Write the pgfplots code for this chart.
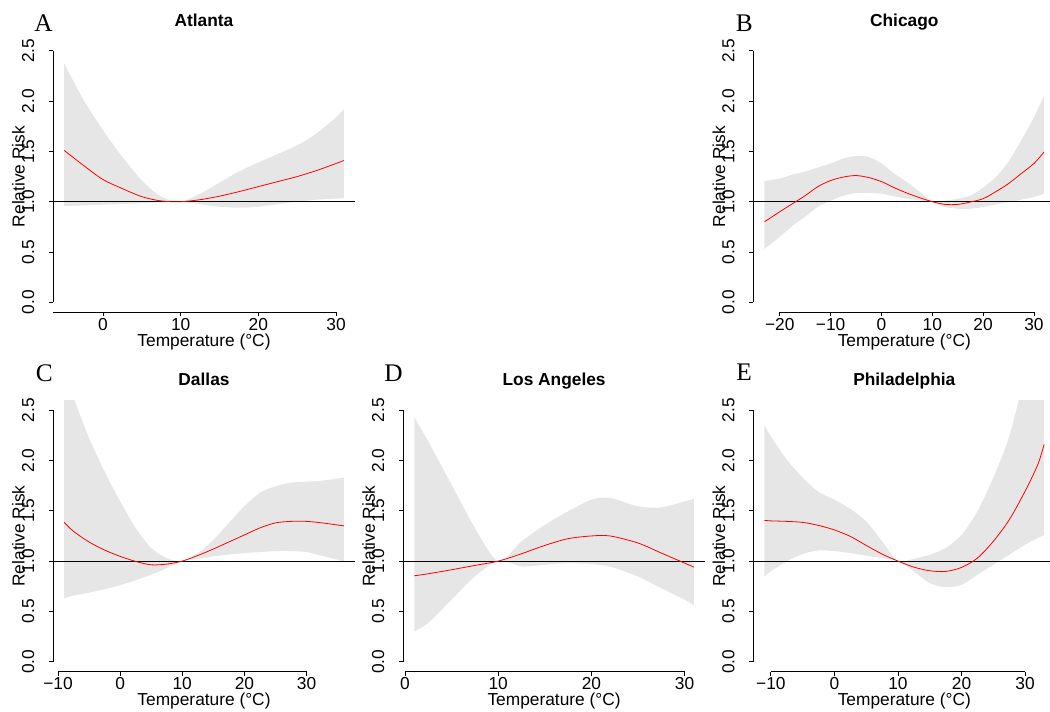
\documentclass[border=0pt]{standalone}
\usepackage{fontspec}
\setmainfont{Liberation Sans}
\newfontfamily\letterfont{Liberation Serif}
\usepackage{pgfplots}
\usepackage{pgfplotstable}
\pgfplotsset{compat=1.18}
\usepgfplotslibrary{fillbetween}

\definecolor{band}{gray}{0.902}
\definecolor{fitred}{RGB}{255,0,0}

% x = temperature, fit = relative risk, lo/hi = confidence band
\pgfplotstableread{
x     fit    lo     hi
-5    1.51   0.957  2.375
-2.5  1.36   0.963  2.01
0     1.22   0.970  1.71
2.5   1.13   0.978  1.445
5     1.05   0.985  1.21
7.5   1.007  0.995  1.05
10    1.0    1.0    1.0
12.5  1.02   0.975  1.08
15    1.055  0.950  1.19
17.5  1.10   0.940  1.30
20    1.15   0.950  1.39
22.5  1.20   0.975  1.475
25    1.25   1.0    1.56
27.5  1.31   1.02   1.68
30    1.38   1.03   1.84
31    1.41   1.035  1.92
}\atlanta

\pgfplotstableread{
x     fit    lo     hi
-23   0.80   0.53   1.206
-20   0.90   0.65   1.23
-17.5 0.98   0.76   1.27
-15   1.06   0.85   1.30
-12.5 1.15   0.95   1.34
-10   1.21   1.01   1.38
-7.5  1.245  1.06   1.43
-5    1.26   1.086  1.455
-2.5  1.24   1.086  1.445
0     1.20   1.08   1.38
2.5   1.14   1.053  1.28
5     1.086  1.03   1.196
7.5   1.04   1.013  1.10
10    1.0    0.995  1.005
12.5  0.973  0.947  1.01
15    0.973  0.930  1.03
17.5  0.997  0.930  1.06
20    1.03   0.947  1.14
22.5  1.10   0.973  1.245
25    1.18   0.997  1.40
27.5  1.28   1.02   1.61
30    1.38   1.047  1.84
32    1.495  1.08   2.06
}\chicago

\pgfplotstableread{
x     fit    lo     hi
-9    1.385  0.63   2.95
-7.5  1.296  0.657  2.63
-5    1.19   0.686  2.226
-2.5  1.11   0.72   1.89
0     1.047  0.76   1.595
2.5   0.997  0.81   1.33
5     0.963  0.865  1.13
7.5   0.97   0.93   1.03
10    1.0    1.0    1.0
12.5  1.056  1.023  1.08
15    1.12   1.047  1.21
17.5  1.19   1.065  1.38
20    1.26   1.08   1.545
22.5  1.33   1.09   1.68
25    1.38   1.10   1.744
27.5  1.395  1.10   1.78
30    1.395  1.09   1.79
32.5  1.38   1.053  1.80
36    1.35   0.997  1.83
}\dallas

\pgfplotstableread{
x     fit    lo     hi
1     0.854  0.30   2.43
2.5   0.874  0.385  2.19
5     0.914  0.615  1.76
7.5   0.957  0.847  1.33
10    1.0    1.0    1.0
12.5  1.073  0.947  1.196
15    1.156  0.963  1.36
17.5  1.223  0.98   1.495
20    1.25   0.97   1.61
22    1.25   0.945  1.628
25    1.18   0.847  1.545
27.5  1.08   0.73   1.535
30    0.98   0.615  1.595
31    0.94   0.56   1.62
}\losangeles

\pgfplotstableread{
x     fit    lo     hi
-11   1.405  0.847  2.35
-10   1.40   0.90   2.24
-7.5  1.395  0.997  2.01
-5    1.385  1.07   1.83
-2.5  1.355  1.106  1.69
0     1.31   1.10   1.61
2.5   1.246  1.08   1.52
5     1.156  1.053  1.395
7.5   1.07   1.03   1.196
10    1.0    1.0    1.0
12.5  0.94   0.897  1.023
15    0.904  0.78   1.063
17.5  0.897  0.74   1.13
20    0.937  0.764  1.26
22.5  1.03   0.864  1.495
25    1.196  0.963  1.83
27.5  1.41   1.063  2.24
30    1.694  1.163  2.85
32    1.96   1.23   3.3
33    2.16   1.26   3.55
}\philadelphia

\pgfplotsset{
  rr/.style={
    scale only axis, width=226.5pt, height=203.6pt,
    anchor=south west,
    ymin=-0.1, ymax=2.6,
    ytick={0,0.5,1,1.5,2,2.5},
    yticklabels={0.0,0.5,1.0,1.5,2.0,2.5},
    axis x line*=bottom, axis y line*=left,
    axis line style={draw=none},
    tick align=outside, major tick length=3pt,
    tick style={black, line width=0.6pt},
    font=\fontsize{13}{15}\selectfont,
    tick label style={font=\fontsize{13}{15}\selectfont, inner sep=0pt},
    xticklabel style={anchor=base},
    yticklabel style={rotate=90, anchor=base, yshift=11.25pt},
    xticklabel shift=10.3pt,
    xlabel={Temperature (°C)}, ylabel={Relative Risk},
    xlabel style={at={(axis description cs:0.5,-0.126)}, anchor=base, inner sep=0pt},
    ylabel style={at={(axis description cs:-0.0936,0.5)}, anchor=base, inner sep=0pt},
    title style={at={(axis description cs:0.5,1)}, anchor=base, yshift=5pt,
      inner sep=0pt, font=\bfseries\fontsize{13}{15}\selectfont},
  },
  rlines/.style n args={3}{after end axis/.append code={
    \draw[black, line width=0.6pt] (axis cs:#1,-0.1) -- (axis cs:#2,-0.1);
    \draw[black, line width=0.6pt] (axis cs:#3,0) -- (axis cs:#3,2.5);}},
}

\newcommand{\panel}[3]{% table, xmin, xmax
  \addplot[name path=hi, draw=none, smooth] table[x=x, y=hi]{#1};
  \addplot[name path=lo, draw=none, smooth] table[x=x, y=lo]{#1};
  \addplot[band, draw=none] fill between[of=hi and lo];
  \addplot[black, line width=0.55pt] coordinates {(#2,1) (#3,1)};
  \addplot[fitred, line width=0.6pt, smooth] table[x=x, y=fit]{#1};
}

\begin{document}
\begin{tikzpicture}
\begin{axis}[rr, at={(39.75pt,299.03pt)}, xmin=-6.44, xmax=32.44,
  xtick={0,10,20,30}, xticklabels={0,10,20,30}, title={Atlanta},
  rlines={-6.44}{30}{-6.44}]
\panel{\atlanta}{-6.44}{32.44}
\end{axis}

\begin{axis}[rr, at={(564.98pt,299.03pt)}, xmin=-25.2, xmax=34.2,
  xtick={-20,-10,0,10,20,30}, xticklabels={−20,−10,0,10,20,30}, title={Chicago},
  rlines={-20}{30}{-25.2}]
\panel{\chicago}{-25.2}{34.2}
\end{axis}

\begin{axis}[rr, at={(39.75pt,29.48pt)}, xmin=-10.8, xmax=37.8,
  xtick={-10,0,10,20,30}, xticklabels={−10,0,10,20,30}, title={Dallas},
  rlines={-10}{30}{-10.8}]
\panel{\dallas}{-10.8}{37.8}
\end{axis}

\begin{axis}[rr, at={(302.33pt,29.48pt)}, xmin=-0.2, xmax=32.2,
  xtick={0,10,20,30}, xticklabels={0,10,20,30}, title={Los Angeles},
  rlines={0}{30}{-0.2}]
\panel{\losangeles}{-0.2}{32.2}
\end{axis}

\begin{axis}[rr, at={(564.98pt,29.48pt)}, xmin=-12.76, xmax=34.76,
  xtick={-10,0,10,20,30}, xticklabels={−10,0,10,20,30}, title={Philadelphia},
  rlines={-10}{30}{-12.76}]
\panel{\philadelphia}{-12.76}{34.76}
\end{axis}

\begin{scope}[every node/.style={inner sep=0pt, anchor=base east,
    font=\letterfont\fontsize{19}{21}\selectfont}]
\node at (39.75pt,509.5pt) {A};
\node at (564.75pt,509.5pt) {B};
\node at (39.75pt,246.75pt) {C};
\node at (302.25pt,246.75pt) {D};
\node at (564pt,247.5pt) {E};
\end{scope}

\pgfresetboundingbox
\path[use as bounding box] (0pt,0pt) rectangle (787.5pt,533.25pt);
\end{tikzpicture}
\end{document}
